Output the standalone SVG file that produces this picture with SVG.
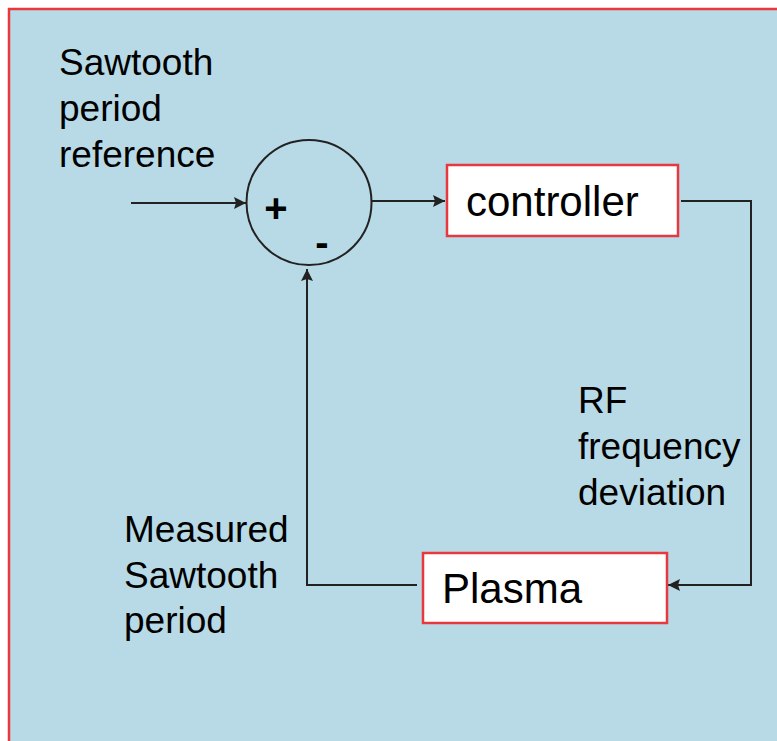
<svg xmlns="http://www.w3.org/2000/svg" width="777" height="741" viewBox="0 0 777 741">
<style>
.lbl{font-family:"Liberation Sans",Arial,sans-serif;font-size:37px;fill:#000}
.sign{font-family:"Liberation Sans",Arial,sans-serif;font-size:40px;font-weight:bold;fill:#000}
.box{fill:#fff;stroke:#E8383D;stroke-width:2.5}
.blbl{font-family:"Liberation Sans",Arial,sans-serif;font-size:42px;fill:#000}
.wire{fill:none;stroke:#222;stroke-width:2}
</style>
<defs>
<marker id="ah" viewBox="0 0 12 12" refX="12" refY="6" markerWidth="12" markerHeight="12" markerUnits="userSpaceOnUse" orient="auto">
<path d="M0,0 L12,6 L0,12 L2,6 z" fill="#222"/>
</marker>
</defs>
<rect x="0" y="0" width="777" height="741" fill="#fff"/>
<rect x="9" y="9" width="800" height="760" fill="#B8DAE6" stroke="#E8383D" stroke-width="2.5"/>
<g id="ref-label">
<text class="lbl" x="59" y="75">Sawtooth</text>
<text class="lbl" x="59" y="121">period</text>
<text class="lbl" x="59" y="167">reference</text>
</g>
<g id="rf-label">
<text class="lbl" x="578" y="413">RF</text>
<text class="lbl" x="578" y="459">frequency</text>
<text class="lbl" x="578" y="505">deviation</text>
</g>
<g id="meas-label">
<text class="lbl" x="124" y="542">Measured</text>
<text class="lbl" x="124" y="588">Sawtooth</text>
<text class="lbl" x="124" y="633">period</text>
</g>
<g id="connectors">
<path class="wire" d="M131,203 H246" marker-end="url(#ah)"/>
<path class="wire" d="M372,201 H445" marker-end="url(#ah)"/>
<path class="wire" d="M681,201 H751 V585 H668" marker-end="url(#ah)"/>
<path class="wire" d="M417,585 H307 V269" marker-end="url(#ah)"/>
</g>
<g id="sum">
<circle cx="309" cy="202.5" r="62.5" fill="none" stroke="#222" stroke-width="2"/>
<text class="sign" x="276" y="222" text-anchor="middle">+</text>
<text class="sign" x="322" y="256" text-anchor="middle">-</text>
</g>
<g id="controller">
<rect class="box" x="447" y="165" width="231" height="71"/>
<text class="blbl" x="466" y="216">controller</text>
</g>
<g id="plasma">
<rect class="box" x="423" y="553" width="244" height="70"/>
<text class="blbl" x="442" y="603">Plasma</text>
</g>
</svg>
